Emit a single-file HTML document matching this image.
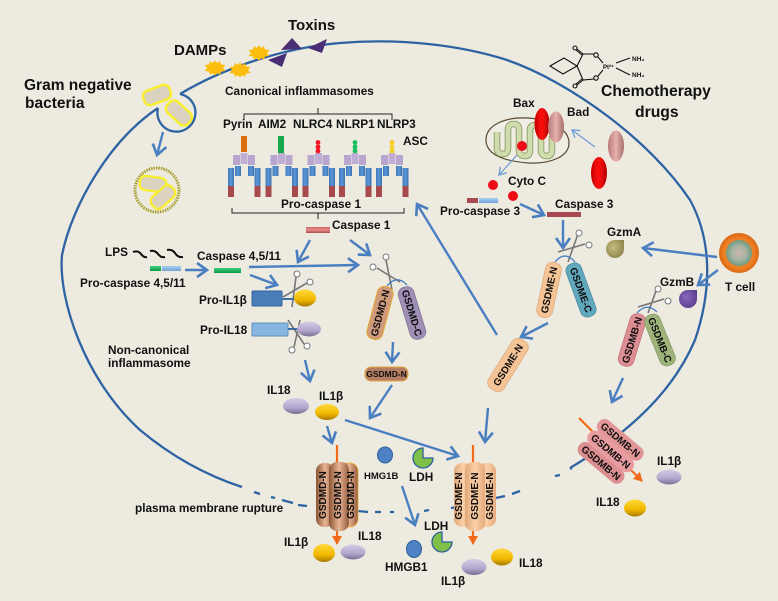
<!DOCTYPE html>
<html><head><meta charset="utf-8"><style>
html,body{margin:0;padding:0;background:#edeae0}
svg{display:block}
text{font-family:"Liberation Sans",sans-serif;font-weight:bold;fill:#111}
</style></head><body>
<svg width="778" height="601" viewBox="0 0 778 601" xmlns="http://www.w3.org/2000/svg">
<defs>
<filter id="b" x="-2%" y="-2%" width="104%" height="104%"><feGaussianBlur stdDeviation="0.35"/></filter>
<marker id="ah" markerUnits="userSpaceOnUse" markerWidth="18" markerHeight="18" refX="13" refY="9" orient="auto"><path d="M3 2L13 9L3 16" fill="none" stroke="#4a7fc0" stroke-width="2.6"/></marker>
<marker id="at" markerUnits="userSpaceOnUse" markerWidth="12" markerHeight="12" refX="9" refY="6" orient="auto"><path d="M2 1.5L9 6L2 10.5" fill="none" stroke="#6b9bd6" stroke-width="1.3"/></marker>
<marker id="ao" markerUnits="userSpaceOnUse" markerWidth="12" markerHeight="12" refX="8" refY="5" orient="auto"><path d="M0 0L9 5L0 10Z" fill="#f26a1b"/></marker>
<linearGradient id="yl" x1="0" y1="0" x2="0" y2="1"><stop offset="0" stop-color="#ffd93a"/><stop offset=".6" stop-color="#f0b800"/><stop offset="1" stop-color="#a87a00"/></linearGradient>
<linearGradient id="pu" x1="0" y1="0" x2="0" y2="1"><stop offset="0" stop-color="#d5cce6"/><stop offset=".6" stop-color="#b3a6cc"/><stop offset="1" stop-color="#7a6d94"/></linearGradient>
<linearGradient id="pk" x1="0" y1="0" x2="1" y2="0"><stop offset="0" stop-color="#b87a78"/><stop offset=".5" stop-color="#e6b0ac"/><stop offset="1" stop-color="#a86e6c"/></linearGradient>
<linearGradient id="rd" x1="0" y1="0" x2="1" y2="0"><stop offset="0" stop-color="#c60000"/><stop offset=".5" stop-color="#ff1010"/><stop offset="1" stop-color="#b00000"/></linearGradient>
<linearGradient id="bd" x1="0" y1="0" x2="1" y2="0"><stop offset="0" stop-color="#8a5434"/><stop offset=".5" stop-color="#e8b596"/><stop offset="1" stop-color="#935c3c"/></linearGradient>
<linearGradient id="pc" x1="0" y1="0" x2="1" y2="0"><stop offset="0" stop-color="#e0a878"/><stop offset=".5" stop-color="#fcd0a8"/><stop offset="1" stop-color="#e4aa7c"/></linearGradient>
<linearGradient id="bl" x1="0" y1="0" x2="1" y2="0"><stop offset="0" stop-color="#3f78bb"/><stop offset=".5" stop-color="#5b97d8"/><stop offset="1" stop-color="#3c70ae"/></linearGradient>
<linearGradient id="bm" x1="0" y1="0" x2="0" y2="1"><stop offset="0" stop-color="#d06a6a"/><stop offset=".5" stop-color="#e88a8a"/><stop offset="1" stop-color="#a84c4c"/></linearGradient>
<linearGradient id="gb" x1="0" y1="0" x2="0" y2="1"><stop offset="0" stop-color="#42d07a"/><stop offset="1" stop-color="#0c9a4a"/></linearGradient>
<linearGradient id="lb" x1="0" y1="0" x2="0" y2="1"><stop offset="0" stop-color="#a8d0f0"/><stop offset="1" stop-color="#6ea4d8"/></linearGradient>
<radialGradient id="ga" cx=".4" cy=".4" r=".7"><stop offset="0" stop-color="#c4bc80"/><stop offset="1" stop-color="#8a8248"/></radialGradient>
<radialGradient id="gm" cx=".4" cy=".4" r=".7"><stop offset="0" stop-color="#8a68c0"/><stop offset="1" stop-color="#553a88"/></radialGradient>
<radialGradient id="tc"><stop offset="0" stop-color="#e8a060"/><stop offset=".8" stop-color="#ec7c22"/><stop offset="1" stop-color="#d86810"/></radialGradient>
<radialGradient id="tn"><stop offset="0" stop-color="#c8b4b0"/><stop offset=".55" stop-color="#a8b4a4"/><stop offset="1" stop-color="#6e9a7e"/></radialGradient>
<g id="leg">
 <rect x="0" y="2" width="6" height="18" fill="url(#bl)"/><rect x="0" y="20" width="6" height="11" fill="#a84a4e"/>
 <rect x="7" y="0" width="6" height="10" fill="url(#bl)"/>
 <rect x="20" y="0" width="6" height="10" fill="url(#bl)"/>
 <rect x="26.5" y="2" width="6" height="18" fill="url(#bl)"/><rect x="26.5" y="20" width="6" height="11" fill="#a84a4e"/>
 <rect x="5" y="-11" width="7" height="10" fill="#b9a6cf"/><rect x="12.5" y="-13" width="7" height="11" fill="#c0aed6"/><rect x="20" y="-11" width="7" height="10" fill="#b9a6cf"/>
</g>
<polygon id="st" points="0,-7.5 2.5,-5 5,-7 6,-3.5 10.5,-3 8,0 10.5,3 6,3.5 5,7 2.5,5 0,7.5 -2.5,5 -5,7 -6,3.5 -10.5,3 -8,0 -10.5,-3 -6,-3.5 -5,-7 -2.5,-5" fill="#fdbd0f"/>
<g id="bac"><rect x="-14" y="-7.5" width="28" height="15" rx="6" fill="#dcd2c0" stroke="#f8ee30" stroke-width="2.5"/></g>
</defs>
<rect width="778" height="601" fill="#edeae0"/>
<g filter="url(#b)">
<!-- membrane -->
<g fill="none" stroke="#2e64a3" stroke-width="2.3">
<path d="M180 94C220 70 280 48 340 43C400 38 460 45 507 60C570 82 650 140 690 200C712 240 712 290 695 340C680 375 650 420 570 468"/>
<path d="M158 108C110 140 72 205 62 255C58 300 85 380 140 430C170 455 205 475 242 487"/>
<path d="M158 108A19 19 0 1 0 180 94"/>
<path d="M254 492L260 494M271 497L275 498M282 500L293 503M298 505L307 506M358 511L368 512M375 512L381 512M390 512L394 512M424 511L429 510M451 508L458 507M496 498L505 496M512 494L520 491M555 476L560 475M570 469L572 468"/>
</g>
<!-- bacteria -->
<use href="#bac" transform="translate(157 95) rotate(-20)"/>
<use href="#bac" transform="translate(179 113) rotate(42)"/>
<circle cx="157" cy="190" r="22" fill="#edeae0" stroke="#a8a030" stroke-width="3" stroke-dasharray="1.5 1"/>
<use href="#bac" transform="translate(153 184) rotate(8) scale(.95)"/>
<use href="#bac" transform="translate(163 197) rotate(-42) scale(.95)"/>
<!-- stars, toxins -->
<use href="#st" transform="translate(259 53)"/><use href="#st" transform="translate(215 68)"/><use href="#st" transform="translate(240 70)"/>
<g fill="#4a2f75"><path d="M281 50L292 38L302 49Z"/><path d="M308 48L327 39L322 53Z"/><path d="M268 60L287 53L282 67Z"/></g>
<!-- molecule -->
<g fill="none" stroke="#111" stroke-width="1.1">
<path d="M550 66L564 58L577 66L563 74Z"/><path d="M577 66L583 54L594 54M577 66L583 80L594 79"/>
<path d="M583 54L577 49M582 55L576 50M583 80L577 85M582 79L576 84"/>
<circle cx="575" cy="48" r="2"/><circle cx="575" cy="86" r="2"/>
<circle cx="596" cy="55" r="2.2"/><circle cx="596" cy="78" r="2.2"/>
<path d="M598 57L603 63M598 76L603 70M616 63L630 58M616 68L630 75"/>
</g>
<text x="603" y="69" font-size="6">Pt²⁺</text><text x="632" y="61" font-size="6.5">NH₃</text><text x="632" y="77" font-size="6.5">NH₃</text>
<!-- inflammasome brackets -->
<g fill="none" stroke="#222" stroke-width="1">
<path d="M244 120V114H392V120M318 108V114"/><path d="M232 208V213H404V208M318 213V219"/>
</g>
<use href="#leg" transform="translate(228 166)"/><use href="#leg" transform="translate(265.5 166)"/><use href="#leg" transform="translate(302.5 166)"/><use href="#leg" transform="translate(339 166)"/><use href="#leg" transform="translate(376 166)"/>
<rect x="241" y="136" width="6" height="16" fill="#dd6e10"/><rect x="278" y="136" width="6" height="17" fill="#12a84a"/>
<g fill="#f01828"><circle cx="318" cy="142.5" r="2.4"/><circle cx="318" cy="147" r="2.4"/><circle cx="318" cy="151" r="2.4"/></g>
<g fill="#18c060"><circle cx="355" cy="142.5" r="2.4"/><circle cx="355" cy="147" r="2.4"/><circle cx="355" cy="151" r="2.4"/></g>
<g fill="#f2cf20"><circle cx="392" cy="142.5" r="2.4"/><circle cx="392" cy="147" r="2.4"/><circle cx="392" cy="151" r="2.4"/></g>
<!-- bars -->
<rect x="306" y="227" width="24" height="6" fill="url(#bm)"/>
<rect x="150" y="266" width="11" height="5" fill="url(#gb)"/><rect x="162" y="266" width="19" height="5" fill="url(#lb)"/>
<rect x="214" y="268" width="27" height="5" fill="url(#gb)"/>
<rect x="467" y="198" width="11" height="5" fill="#a84a50"/><rect x="479" y="198" width="19" height="5" fill="url(#lb)"/>
<rect x="547" y="212" width="34" height="5" fill="#a84a50"/>
<g fill="none" stroke="#111" stroke-width="2"><path d="M133 252Q138 250 141 254Q144 258 147 257"/><path d="M150 251Q155 250 158 254Q161 258 165 257"/><path d="M167 250Q172 249 175 253Q178 258 183 257"/></g>
<!-- mitochondrion -->
<path d="M486 140C486 125 505 117 527 118C548 119 569 128 569 143C569 156 552 164 528 163C504 161 486 155 486 140Z" fill="#f0eee4" stroke="#5a4a30" stroke-width="1.2"/>
<path d="M497 132V148Q497 154 503 154Q508 154 508 148V130Q508 124 514 124Q519 124 519 130V150Q519 156 525 156Q530 156 530 150V130Q530 125 536 125Q541 125 541 130V150Q541 156 547 156Q552 156 552 150V136" fill="none" stroke="#7f8d55" stroke-width="6.5"/>
<path d="M497 132V148Q497 154 503 154Q508 154 508 148V130Q508 124 514 124Q519 124 519 130V150Q519 156 525 156Q530 156 530 150V130Q530 125 536 125Q541 125 541 130V150Q541 156 547 156Q552 156 552 150V136" fill="none" stroke="#cfdcae" stroke-width="5"/>
<ellipse cx="542" cy="124" rx="7.5" ry="16" fill="url(#rd)"/><ellipse cx="556" cy="127" rx="8" ry="15.5" fill="url(#pk)"/>
<ellipse cx="616" cy="146" rx="8" ry="15.5" fill="url(#pk)"/><ellipse cx="599" cy="173" rx="8" ry="16" fill="url(#rd)"/>
<g fill="#ee0f12"><circle cx="522" cy="146" r="5"/><circle cx="493" cy="185" r="5"/><circle cx="513" cy="196" r="5"/></g>
<!-- arrows -->
<g fill="none" stroke="#4a7fc0" stroke-width="2.4" marker-end="url(#ah)">
<path d="M163 132L157 155"/><path d="M185 270L207 270"/><path d="M249 267L358 265"/><path d="M250 275L277 285"/>
<path d="M310 240L298 262"/><path d="M350 240L370 255"/><path d="M305 360L310 381"/><path d="M393 342L392 362"/>
<path d="M392 385L370 418"/><path d="M345 420L458 456"/><path d="M327 426L332 443"/><path d="M488 408L485 442"/>
<path d="M497 335L417 204"/><path d="M563 220L563 248"/><path d="M520 204L544 215"/><path d="M717 257L643 248"/>
<path d="M718 270L698 285"/><path d="M548 323L521 337"/><path d="M623 378L612 402"/><path d="M402 486L415 525"/>
</g>
<g fill="none" stroke="#6b9bd6" stroke-width="1.2" marker-end="url(#at)"><path d="M595 147L572 130"/><path d="M517 155L499 175"/></g>
<!-- orange lines -->
<g fill="none" stroke="#f26a1b" stroke-width="2.2" marker-end="url(#ao)"><path d="M337 445V544"/><path d="M473 445V544"/><path d="M579 418L642 481"/></g>
<!-- scissors -->
<g fill="none">
<path d="M558 252L585 244M568 262L578 234" stroke="#777" stroke-width="1.6"/>
<path d="M555 262Q565 250 575 262" stroke="#3a78c0" stroke-width="1.2"/>
<circle cx="579" cy="233" r="3" fill="#fff" stroke="#777"/><circle cx="589" cy="245" r="3" fill="#fff" stroke="#777"/>
<path d="M638 307L664 299M648 313L656 291" stroke="#777" stroke-width="1.6"/>
<path d="M637 313Q647 302 657 312" stroke="#3a78c0" stroke-width="1.2"/>
<circle cx="658" cy="289" r="3" fill="#fff" stroke="#777"/><circle cx="668" cy="301" r="3" fill="#fff" stroke="#777"/>
<path d="M400 282L377 268M392 290L386 260" stroke="#777" stroke-width="1.6"/>
<path d="M387 286Q397 274 407 285" stroke="#3a78c0" stroke-width="1.2"/>
<circle cx="386" cy="257" r="3" fill="#fff" stroke="#777"/><circle cx="373" cy="267" r="3" fill="#fff" stroke="#777"/>
<path d="M283 297L307 283M292 307L296 277" stroke="#777" stroke-width="1.6"/>
<circle cx="297" cy="274" r="3" fill="#fff" stroke="#777"/><circle cx="310" cy="282" r="3" fill="#fff" stroke="#777"/>
<path d="M288 320L304 344M300 320L294 347" stroke="#777" stroke-width="1.6"/>
<circle cx="292" cy="350" r="3" fill="#fff" stroke="#777"/><circle cx="307" cy="346" r="3" fill="#fff" stroke="#777"/>
</g>
<!-- pills -->
<g font-size="10" text-anchor="middle">
<g transform="translate(380 313) rotate(-75)"><rect x="-27" y="-8" width="54" height="16" rx="7" fill="#d09a7c" stroke="#e4a830"/><text y="3.5">GSDMD-N</text></g>
<g transform="translate(412 313) rotate(73)"><rect x="-27" y="-8" width="54" height="16" rx="7" fill="#9f8fb5" stroke="#7d7096" stroke-width=".7"/><text y="3.5">GSDMD-C</text></g>
<g transform="translate(386.5 374)"><rect x="-21.5" y="-7" width="43" height="14" rx="6" fill="#b57e62" stroke="#e0a840"/><text y="3" font-size="8.5">GSDMD-N</text></g>
<g transform="translate(549 290) rotate(-78)"><rect x="-28" y="-8" width="56" height="16" rx="7" fill="#f5c496" stroke="#dca878" stroke-width=".7"/><text y="3.5">GSDME-N</text></g>
<g transform="translate(581 290) rotate(70)"><rect x="-28" y="-8" width="56" height="16" rx="7" fill="#62a8bc" stroke="#468ca0" stroke-width=".7"/><text y="3.5">GSDME-C</text></g>
<g transform="translate(508 365) rotate(-58)"><rect x="-29" y="-9" width="58" height="18" rx="7" fill="#f5c496" stroke="#dca878" stroke-width=".7"/><text y="3.5">GSDME-N</text></g>
<g transform="translate(632 340) rotate(-73)"><rect x="-27" y="-8" width="54" height="16" rx="7" fill="#dd8e94" stroke="#c07076" stroke-width=".7"/><text y="3.5">GSDMB-N</text></g>
<g transform="translate(660 340) rotate(68)"><rect x="-27" y="-8" width="54" height="16" rx="7" fill="#9eb47a" stroke="#7e9660" stroke-width=".7"/><text y="3.5">GSDMB-C</text></g>
<!-- pores -->
<rect x="316" y="463" width="18" height="64" rx="8" fill="url(#bd)"/>
<rect x="340" y="463" width="18" height="64" rx="8" fill="url(#bd)" stroke="#e8b030" stroke-width=".8"/>
<rect x="329" y="462" width="20" height="69" rx="8" fill="url(#bd)"/>
<text transform="translate(326 495) rotate(-90)">GSDMD-N</text><text transform="translate(341 495) rotate(-90)">GSDMD-N</text><text transform="translate(354 495) rotate(-90)">GSDMD-N</text>
<rect x="454" y="463" width="18" height="64" rx="8" fill="url(#pc)"/>
<rect x="478" y="463" width="18" height="64" rx="8" fill="url(#pc)"/>
<rect x="465" y="462" width="20" height="69" rx="8" fill="url(#pc)"/>
<text transform="translate(462 496) rotate(-90)">GSDME-N</text><text transform="translate(478 496) rotate(-90)">GSDME-N</text><text transform="translate(493 496) rotate(-90)">GSDME-N</text>
<g transform="translate(611 451) rotate(40)">
<rect x="-28" y="8" width="56" height="15" rx="7" fill="#dc8e90"/><rect x="-28" y="-7" width="56" height="15" rx="7" fill="#e89ca0"/><rect x="-28" y="-22" width="56" height="15" rx="7" fill="#e29698"/>
<text y="-11">GSDMB-N</text><text y="4">GSDMB-N</text><text y="19">GSDMB-N</text></g>
</g>
<!-- IL bodies -->
<rect x="252" y="291" width="30" height="15" rx="1" fill="#4a7fb8" stroke="#34609a"/><path d="M282 299H296" stroke="#3a6ea5" stroke-width="2"/>
<rect x="252" y="323" width="36" height="13" rx="1" fill="#85b5e0" stroke="#5f90c0"/><path d="M288 329H300" stroke="#3a6ea5" stroke-width="2"/>
<g fill="url(#yl)"><ellipse cx="305" cy="298" rx="11" ry="8.5"/><ellipse cx="327" cy="412" rx="12" ry="8"/><ellipse cx="324" cy="553" rx="11" ry="9"/><ellipse cx="502" cy="557" rx="11" ry="8.5"/><ellipse cx="635" cy="508" rx="11" ry="8.5"/></g>
<g fill="url(#pu)"><ellipse cx="309" cy="329" rx="12" ry="7.5"/><ellipse cx="296" cy="406" rx="13" ry="8"/><ellipse cx="353" cy="552" rx="12.5" ry="7.5"/><ellipse cx="474" cy="567" rx="12.5" ry="8"/><ellipse cx="669" cy="477" rx="12.5" ry="7.5"/></g>
<g fill="#4f82c4" stroke="#2f5f9c"><ellipse cx="385" cy="455" rx="7.5" ry="8"/><ellipse cx="414" cy="549" rx="7.5" ry="8.5"/></g>
<g fill="#7fc04a" stroke="#2f5f9c" stroke-width="1.3"><path d="M423 458V448A10 10 0 1 0 433 458Z"/><path d="M442 542V532A10 10 0 1 0 452 542Z"/></g>
<path d="M624 240V249A9 9 0 1 1 615 240Z" fill="url(#ga)"/>
<path d="M697 290V299A9 9 0 1 1 688 290Z" fill="url(#gm)"/>
<!-- T cell -->
<circle cx="739" cy="253" r="20" fill="url(#tc)"/><circle cx="739" cy="253" r="13" fill="url(#tn)"/>
</g>
<!-- labels -->
<text x="288" y="30" font-size="15">Toxins</text>
<text x="174" y="55" font-size="15">DAMPs</text>
<text x="24" y="90" font-size="15.5">Gram negative</text>
<text x="25" y="108" font-size="15.5">bacteria</text>
<text x="601" y="96" font-size="15.7">Chemotherapy</text>
<text x="635" y="117" font-size="15.7">drugs</text>
<g font-size="11.8">
<text x="225" y="95">Canonical inflammasomes</text>
<text x="223" y="128">Pyrin</text><text x="258" y="128">AIM2</text><text x="293" y="128">NLRC4</text><text x="336" y="128">NLRP1</text><text x="377" y="128">NLRP3</text>
<text x="403" y="145">ASC</text><text x="281" y="208">Pro-caspase 1</text><text x="332" y="229">Caspase 1</text>
<text x="513" y="107">Bax</text><text x="567" y="116">Bad</text><text x="508" y="185">Cyto C</text><text x="440" y="215">Pro-caspase 3</text><text x="555" y="208">Caspase 3</text>
<text x="607" y="236">GzmA</text><text x="660" y="286">GzmB</text>
<text x="105" y="256">LPS</text><text x="197" y="260">Caspase 4,5/11</text><text x="80" y="287">Pro-caspase 4,5/11</text>
<text x="199" y="304">Pro-IL1β</text><text x="200" y="334">Pro-IL18</text><text x="108" y="354">Non-canonical</text><text x="108" y="367">inflammasome</text>
<text x="267" y="394">IL18</text><text x="319" y="400">IL1β</text><text x="135" y="512">plasma membrane rupture</text>
<text x="409" y="481">LDH</text><text x="284" y="546">IL1β</text><text x="358" y="540">IL18</text><text x="385" y="571">HMGB1</text><text x="424" y="530">LDH</text>
<text x="441" y="585">IL1β</text><text x="519" y="567">IL18</text><text x="657" y="465">IL1β</text><text x="596" y="506">IL18</text>
</g>
<text x="725" y="291" font-size="11.8">T cell</text>
<text x="364" y="479" font-size="9.5">HMG1B</text>
</svg>
</body></html>
